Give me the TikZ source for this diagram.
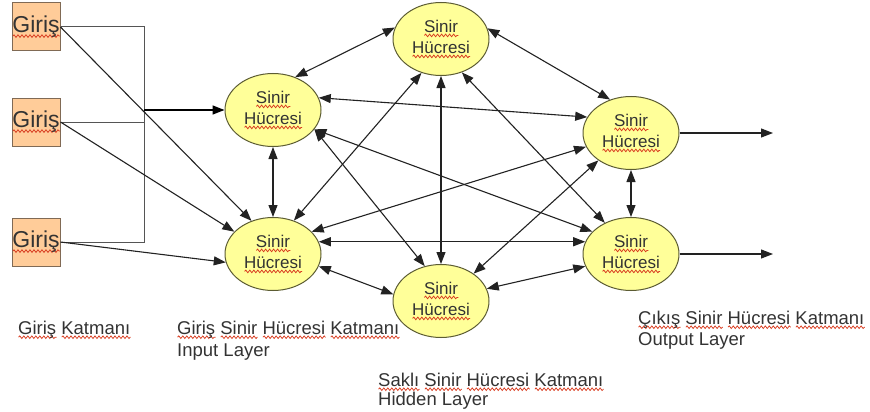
\documentclass[tikz,border=0pt]{standalone}
\usepackage{fontspec}
\setmainfont{Liberation Sans}
\usetikzlibrary{arrows.meta,shapes.geometric,decorations.pathmorphing}

\definecolor{boxfill}{HTML}{FFCC99}
\definecolor{boxline}{HTML}{806A55}
\definecolor{cellfill}{HTML}{FFFF99}
\definecolor{cellline}{HTML}{5C5C33}
\definecolor{ink}{HTML}{333333}
\definecolor{spell}{HTML}{D83A1E}
\definecolor{wire}{HTML}{222222}
\definecolor{buswire}{HTML}{555555}

% red wavy spell-check underline under one word
\newsavebox\wavebox
\newcommand\spellwave[1]{%
  \sbox\wavebox{#1}%
  \rlap{\tikz[baseline=0pt,x=1pt,y=1pt]
    \draw[spell,line width=0.75pt,decorate,
      decoration={snake,amplitude=1.3pt,segment length=4pt}]
      (0,-3.2) -- (\the\wd\wavebox,-3.2);}%
  \usebox\wavebox}

\begin{document}
\begin{tikzpicture}[x=1pt,y=-1pt,
  >={Triangle[length=12pt,width=9pt]},
  cell/.style={ellipse, draw=cellline, line width=1pt, fill=cellfill,
    minimum width=96pt, minimum height=73pt, inner sep=0pt, align=center,
    text=ink, font=\fontsize{17}{21}\selectfont},
  inbox/.style={rectangle, draw=boxline, fill=boxfill, line width=1pt,
    minimum width=48pt, minimum height=48pt, inner sep=0pt,
    text=ink, font=\fontsize{23}{26}\selectfont},
  link/.style={<->, draw=wire, line width=1.1pt},
  feed/.style={->, draw=wire, line width=1.1pt},
  bus/.style={draw=buswire, line width=1pt},
  layertext/.style={anchor=base west, inner sep=0pt, text=ink,
    font=\fontsize{18.5}{22}\selectfont}]

\useasboundingbox (0,0) rectangle (870,412);

% input boxes
\node[inbox] (in1) at (36,27)  {\spellwave{Giriş}};
\node[inbox] (in2) at (36,122) {\spellwave{Giriş}};
\node[inbox] (in3) at (36,242) {\spellwave{Giriş}};

% neurons
\node[cell] (A) at (273,110) {\spellwave{Sinir}\\\spellwave{Hücresi}};
\node[cell] (B) at (273,254) {\spellwave{Sinir}\\\spellwave{Hücresi}};
\node[cell] (C) at (441,39)  {\spellwave{Sinir}\\\spellwave{Hücresi}};
\node[cell] (D) at (441,301) {\spellwave{Sinir}\\\spellwave{Hücresi}};
\node[cell] (E) at (631,133) {\spellwave{Sinir}\\\spellwave{Hücresi}};
\node[cell] (F) at (631,254) {\spellwave{Sinir}\\\spellwave{Hücresi}};

% bus from the inputs to the upper input neuron
\coordinate (busTop) at (144,27);
\coordinate (busBot) at (144,242);
\coordinate (busOut) at (144,110);
\draw[bus] (in1.east) -- (busTop) -- (busBot) -- (in3.east);
\draw[bus] (in2.east) -- (in2.east -| busTop);
\draw[feed, line width=1.6pt, draw=black] (busOut) -- (A.west);

% direct inputs to the lower input neuron
\draw[feed] (in1.east) -- (B.123);
\draw[feed] (in2.east) -- (B.150);
\draw[feed] (in3.east) -- (B.190);

% connections between neurons
\draw[link] (A.-90) -- (B.90);
\draw[link] (A.56)  -- (C.166);
\draw[link] (A.15)  -- (E.160);
\draw[link] (A.-25) -- (F.150);
\draw[link] (A.-25) -- (D.115);
\draw[link] (B.58)  -- (C.-120);
\draw[link] (B.-15) -- (D.172);
\draw[link] (B.30)  -- (E.197);
\draw[link] (B.15)  -- (F.165);
\draw[link] (C.-90) -- (D.90);
\draw[link] (C.13)  -- (E.122);
\draw[link] (C.-58) -- (F.130);
\draw[link] (D.40)  -- (E.220);
\draw[link] (D.15)  -- (F.195);
\draw[link] (E.-90) -- (F.90);

% outputs
\coordinate (outE) at (773,133);
\coordinate (outF) at (773,254);
\draw[feed] (E.east) -- (outE);
\draw[feed] (F.east) -- (outF);

% layer captions
\node[layertext] (capIn) at (18,334) {\spellwave{Giriş} \spellwave{Katmanı}};
\node[layertext] (capInp) at (177,334) {\spellwave{Giriş} \spellwave{Sinir} \spellwave{Hücresi} \spellwave{Katmanı}};
\node[layertext] (capInpEn) at (177,356) {Input Layer};
\node[layertext] (capHid) at (378,386) {\spellwave{Saklı} \spellwave{Sinir} \spellwave{Hücresi} \spellwave{Katmanı}};
\node[layertext] (capHidEn) at (378,405) {Hidden Layer};
\node[layertext] (capOut) at (638,324) {\spellwave{Çıkış} \spellwave{Sinir} \spellwave{Hücresi} \spellwave{Katmanı}};
\node[layertext] (capOutEn) at (638,345) {Output Layer};

\end{tikzpicture}
\end{document}
